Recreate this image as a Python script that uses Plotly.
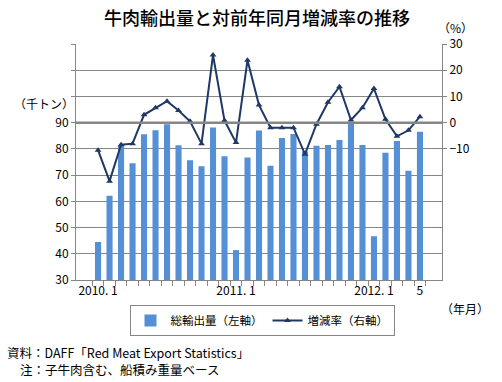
import plotly.graph_objects as go

months = ["2010-01","2010-02","2010-03","2010-04","2010-05","2010-06","2010-07","2010-08","2010-09","2010-10","2010-11","2010-12",
          "2011-01","2011-02","2011-03","2011-04","2011-05","2011-06","2011-07","2011-08","2011-09","2011-10","2011-11","2011-12",
          "2012-01","2012-02","2012-03","2012-04","2012-05"]
month_labels = ["2010. 1","","","","","","","","","","","",
                "2011. 1","","","","","","","","","","","",
                "2012. 1","","","","5"]
exports = [44.5, 62.1, 81.5, 74.5, 85.6, 87.1, 89.4, 81.4, 75.7, 73.4, 88.2, 77.2,
           41.4, 76.7, 87.0, 73.6, 84.2, 85.7, 79.0, 81.2, 81.5, 83.4, 89.6, 81.5,
           46.7, 78.5, 83.0, 71.7, 86.5]
change = [-10.5, -22.3, -8.4, -8.0, 3.0, 5.7, 8.2, 4.6, 0.5, -8.0, 25.8, 0.8,
          -7.6, 23.8, 6.7, -1.9, -1.9, -1.9, -12.0, -0.6, 7.8, 13.7, 1.0, 5.7,
          13.0, 1.3, -5.2, -2.9, 2.3]
left_ticks = [30, 40, 50, 60, 70, 80, 90, 100, 110, 120]
left_text = ["30", "40", "50", "60", "70", "80", "90", "", "", ""]
right_ticks = [-10, 0, 10, 20, 30]

FONT = "Noto Sans CJK JP"
GRID = "#868686"

fig = go.Figure()
fig.add_trace(go.Bar(x=months, y=exports, name="総輸出量（左軸）",
                     marker=dict(color="#5590d6", line=dict(width=0)), yaxis="y"))
fig.add_trace(go.Scatter(x=months, y=change, name="増減率（右軸）", yaxis="y2",
                         mode="lines+markers",
                         line=dict(color="#1f3864", width=2),
                         marker=dict(symbol="triangle-up", size=6, color="#1f3864")))

fig.update_layout(
    width=502, height=382,
    margin=dict(l=76, r=60, t=44, b=102),
    paper_bgcolor="white", plot_bgcolor="white",
    font=dict(family=FONT, size=12, color="#000000"),
    bargap=0.47,
    showlegend=True,
    legend=dict(orientation="h", x=(262 - 76) / 366, xanchor="center",
                y=(280 - 305) / 236, yanchor="top",
                bordercolor=GRID, borderwidth=1, font=dict(size=11.5),
                itemwidth=30, tracegroupgap=0),
    xaxis=dict(type="category", tickmode="array", tickvals=months, ticktext=month_labels,
               tickson="boundaries", ticks="outside", ticklen=5, tickcolor=GRID,
               showline=True, linecolor=GRID, linewidth=1, showgrid=False,
               tickangle=0, tickfont=dict(size=12)),
    yaxis=dict(range=[30, 120], tickmode="array", tickvals=left_ticks, ticktext=left_text,
               showgrid=True, gridcolor=GRID, gridwidth=1, zeroline=False,
               showline=True, linecolor=GRID, ticks="outside", ticklen=4, tickcolor=GRID,
               tickfont=dict(size=12)),
    yaxis2=dict(range=[-60, 30], overlaying="y", side="right", tickmode="array",
                tickvals=right_ticks, showgrid=False, zeroline=False,
                showline=True, linecolor=GRID, ticks="outside", ticklen=4, tickcolor=GRID,
                tickfont=dict(size=12)),
)

fig.add_shape(type="line", xref="paper", yref="y", x0=0, x1=1, y0=90, y1=90,
              line=dict(color=GRID, width=2.5), layer="above")

fig.add_annotation(text="牛肉輸出量と対前年同月増減率の推移", xref="paper", yref="paper",
                   x=(257 - 76) / 366, y=1 + (44 - 17) / 236, xanchor="center", yanchor="middle",
                   showarrow=False, font=dict(size=18, family=FONT, color="#000000", weight=500))
fig.add_annotation(text="（千トン）", xref="paper", yref="paper",
                   x=(44 - 76) / 366, y=(280 - 103) / 236, xanchor="center", yanchor="middle",
                   showarrow=False, font=dict(size=12))
fig.add_annotation(text="（%）", xref="paper", yref="paper",
                   x=(455 - 76) / 366, y=(280 - 28) / 236, xanchor="center", yanchor="middle",
                   showarrow=False, font=dict(size=12))
fig.add_annotation(text="（年月）", xref="paper", yref="paper",
                   x=(465 - 76) / 366, y=(280 - 308) / 236, xanchor="center", yanchor="middle",
                   showarrow=False, font=dict(size=12))
fig.add_annotation(text="資料：DAFF「Red Meat Export Statistics」", xref="paper", yref="paper",
                   x=(5 - 76) / 366, y=(280 - 352) / 236, xanchor="left", yanchor="middle",
                   showarrow=False, font=dict(size=12.5))
fig.add_annotation(text="注：子牛肉含む、船積み重量ベース", xref="paper", yref="paper",
                   x=(18 - 76) / 366, y=(280 - 370) / 236, xanchor="left", yanchor="middle",
                   showarrow=False, font=dict(size=12.5))

fig.write_html("out.html", config={"displayModeBar": False},
               post_script="document.body.style.margin='0';")
